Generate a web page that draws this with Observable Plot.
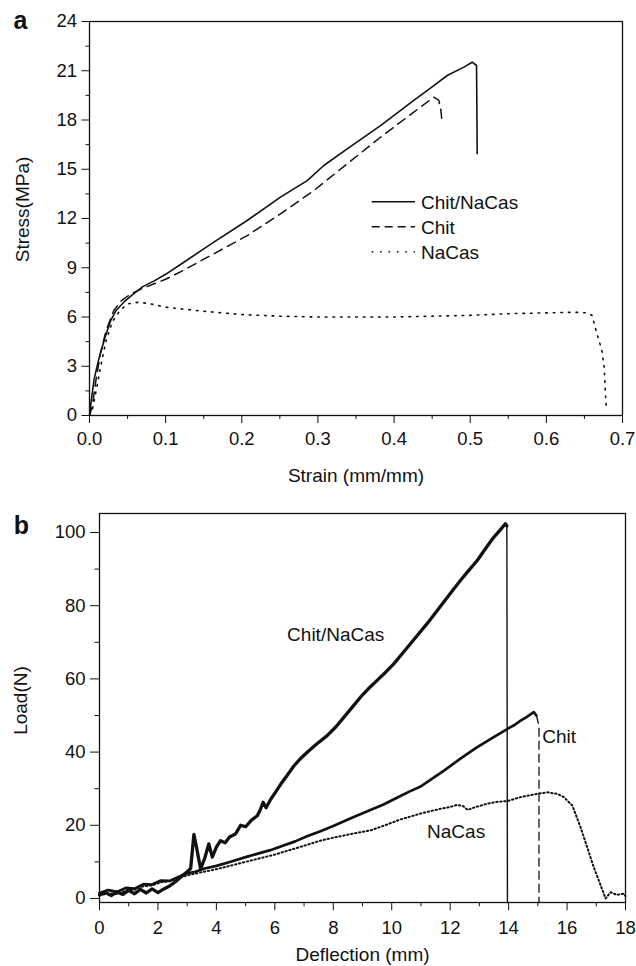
<!DOCTYPE html>
<html><head><meta charset="utf-8">
<script src="https://cdn.jsdelivr.net/npm/d3@7"></script>
<script src="https://cdn.jsdelivr.net/npm/@observablehq/plot@0.6"></script>
<style>
html,body{margin:0;padding:0;background:#fff;}
#chart{width:636px;}
#chart svg{display:block;}
</style></head><body><div id="chart"></div>
<script>
// ---------- Panel a : stress-strain ----------
const seriesNames = ["Chit/NaCas", "Chit", "NaCas"];

const strainChitNaCasA = [0, 0.002, 0.006, 0.012, 0.02, 0.028, 0.035, 0.045, 0.055, 0.07, 0.085, 0.1, 0.1195, 0.1633, 0.2071, 0.2508, 0.2859, 0.3077, 0.3384, 0.3822, 0.4259, 0.4522, 0.4698, 0.4916, 0.5026, 0.5083, 0.5092];
const stressChitNaCasA = [0, 0.8, 2.2, 3.4, 4.7, 5.8, 6.4, 6.9, 7.3, 7.85, 8.2, 8.6, 9.2, 10.56, 11.88, 13.3, 14.31, 15.23, 16.24, 17.66, 19.19, 20.1, 20.71, 21.22, 21.52, 21.32, 15.94];

const strainChitA = [0, 0.0035, 0.008, 0.0144, 0.022, 0.032, 0.042, 0.054, 0.07, 0.1, 0.1195, 0.1633, 0.2071, 0.2508, 0.2946, 0.3384, 0.3822, 0.4259, 0.4522, 0.4588, 0.4615, 0.4632];
const stressChitA = [0, 0.5, 2.0, 3.8, 5.2, 6.4, 7.0, 7.4, 7.75, 8.3, 8.75, 9.85, 10.96, 12.28, 13.7, 15.33, 16.95, 18.48, 19.39, 19.19, 18.6, 17.77];

const strainNaCasA = [0, 0.004, 0.01, 0.016, 0.022, 0.03, 0.04, 0.05, 0.065, 0.08, 0.1, 0.15, 0.2, 0.25, 0.3, 0.35, 0.4, 0.45, 0.5, 0.55, 0.6, 0.636, 0.655, 0.66, 0.6665, 0.673, 0.676, 0.678, 0.679];
const stressNaCasA = [0, 0.4, 1.8, 3.3, 4.6, 5.7, 6.4, 6.8, 6.9, 6.8, 6.6, 6.35, 6.15, 6.05, 6.0, 6.0, 6.0, 6.05, 6.1, 6.2, 6.25, 6.29, 6.25, 6.09, 4.97, 3.96, 2.9, 1.0, 0.3];

const xTicksA = [0, 0.1, 0.2, 0.3, 0.4, 0.5, 0.6, 0.7];
const xMinorA = [0.05, 0.15, 0.25, 0.35, 0.45, 0.55, 0.65];
const yTicksA = [0, 3, 6, 9, 12, 15, 18, 21, 24];
const yMinorA = [1.5, 4.5, 7.5, 10.5, 13.5, 16.5, 19.5, 22.5];

// ---------- Panel b : load-deflection ----------
const deflChitNaCasB = [0, 0.2, 0.4, 0.6, 0.8, 1.0, 1.2, 1.4, 1.6, 1.8, 2.0, 2.2, 2.4, 2.6, 2.8, 3.0, 3.12, 3.23, 3.32, 3.46, 3.6, 3.74, 3.86, 4.0, 4.14, 4.3, 4.45, 4.65, 4.83, 5.0, 5.2, 5.4, 5.51, 5.6, 5.7, 5.85, 6.02, 6.2, 6.4, 6.65, 6.9, 7.1, 7.4, 7.79, 8.1, 8.36, 8.65, 8.93, 9.2, 9.5, 9.8, 10.07, 10.35, 10.64, 10.93, 11.21, 11.5, 11.78, 12.07, 12.35, 12.63, 12.92, 13.2, 13.49, 13.7, 13.89, 13.94, 13.96];
const loadChitNaCasB = [1.0, 1.6, 0.8, 1.8, 1.1, 2.2, 1.3, 2.5, 1.5, 2.6, 1.6, 2.6, 3.4, 4.6, 6.0, 7.3, 8.2, 17.5, 14.0, 8.1, 11.0, 14.9, 11.3, 14.0, 15.8, 15.2, 16.8, 17.6, 20.0, 19.6, 21.4, 22.6, 24.4, 26.3, 24.8, 27.0, 29.0, 31.2, 33.4, 36.2, 38.4, 39.9, 42.0, 44.5, 47.0, 49.5, 52.3, 55.0, 57.3, 59.6, 61.9, 64.1, 66.8, 69.6, 72.4, 75.1, 78.1, 81.0, 84.0, 86.9, 89.6, 92.3, 95.5, 98.7, 100.6, 102.4, 101.8, -1.1];

const deflChitB = [0, 0.3, 0.6, 0.9, 1.2, 1.5, 1.8, 2.1, 2.4, 2.7, 3.0, 3.28, 3.6, 4.0, 4.43, 5.0, 5.57, 5.85, 6.2, 6.7, 7.1, 7.56, 8.0, 8.6, 9.27, 9.7, 10.3, 10.6, 10.99, 11.21, 11.8, 12.35, 12.9, 13.49, 13.95, 14.2, 14.41, 14.6, 14.86, 14.95, 15.0, 15.04, 15.04];
const loadChitB = [1.5, 2.3, 1.8, 2.9, 2.7, 3.9, 3.8, 4.9, 4.8, 5.9, 6.9, 7.3, 8.2, 8.9, 9.9, 11.3, 12.6, 13.2, 14.2, 15.6, 17.0, 18.4, 19.8, 21.9, 24.2, 25.6, 28.0, 29.2, 30.6, 31.8, 35.0, 38.2, 41.2, 44.1, 46.3, 47.4, 48.6, 49.5, 50.9, 50.0, 48.5, 47.0, -1.1];

const deflNaCasB = [0, 0.3, 0.6, 0.9, 1.2, 1.5, 1.8, 2.1, 2.4, 2.7, 3.0, 3.4, 4.0, 4.5, 5.0, 5.5, 6.0, 6.5, 7.0, 7.56, 8.0, 8.6, 9.27, 9.7, 10.3, 10.99, 11.4, 11.67, 12.0, 12.24, 12.45, 12.6, 12.8, 13.27, 13.6, 13.95, 14.41, 14.98, 15.32, 15.66, 15.89, 16.18, 16.46, 16.69, 16.91, 17.15, 17.32, 17.49, 17.7, 17.94, 18.0];
const loadNaCasB = [0.8, 1.4, 1.2, 2.2, 2.4, 3.3, 3.6, 4.4, 4.8, 5.5, 6.3, 7.0, 8.0, 9.0, 10.0, 11.0, 12.0, 13.2, 14.4, 15.8, 16.6, 17.6, 18.6, 19.8, 21.6, 23.2, 24.0, 24.5, 25.0, 25.6, 25.2, 24.2, 24.8, 25.9, 26.4, 26.6, 27.7, 28.6, 29.0, 28.6, 27.7, 25.4, 19.5, 14.0, 8.6, 3.6, 0, 1.7, 1.0, 1.3, 0.6];

const labelTextB = ["Chit/NaCas", "Chit", "NaCas"];
const labelXB = [6.42, 15.15, 11.21];
const labelYB = [72.0, 44.2, 18.2];

const xTicksB = [0, 2, 4, 6, 8, 10, 12, 14, 16, 18];
const xMinorB = [1, 3, 5, 7, 9, 11, 13, 15, 17];
const yTicksB = [0, 20, 40, 60, 80, 100];
const yMinorB = [10, 30, 50, 70, 90];

// ---------- helpers ----------
const FONT = "'Liberation Sans', Arial, Helvetica, sans-serif";
const INK = "#111";
const zip = (xs, ys) => xs.map((x, i) => ({x, y: ys[i]}));

const chitNaCasA = zip(strainChitNaCasA, stressChitNaCasA);
const chitA = zip(strainChitA, stressChitA);
const naCasA = zip(strainNaCasA, stressNaCasA);
const chitNaCasB = zip(deflChitNaCasB, loadChitNaCasB);
const chitB = zip(deflChitB, loadChitB);
const naCasB = zip(deflNaCasB, loadNaCasB);
const labelsB = labelTextB.map((t, i) => ({text: t, x: labelXB[i], y: labelYB[i]}));

// ---------- Plot a ----------
const plotA = Plot.plot({
  width: 636, height: 490,
  marginLeft: 89, marginRight: 14, marginTop: 21, marginBottom: 75,
  style: {fontFamily: FONT, fontSize: "18.5px", background: "#fff", color: INK, overflow: "visible"},
  x: {domain: [0, 0.7]},
  y: {domain: [0, 24]},
  marks: [
    Plot.axisX(xMinorA, {tickSize: 4, tickFormat: () => "", label: null}),
    Plot.axisX(xTicksA, {tickSize: 8, tickPadding: 8.5, tickFormat: d => d.toFixed(1), label: null}),
    Plot.axisY(yMinorA, {tickSize: 3.5, tickFormat: () => "", label: null}),
    Plot.axisY(yTicksA, {tickSize: 7.5, tickPadding: 5, tickFormat: d => String(d), label: null}),
    Plot.line(naCasA, {x: "x", y: "y", stroke: INK, strokeWidth: 1.6, strokeDasharray: "1.6,6"}),
    Plot.line(chitA, {x: "x", y: "y", stroke: INK, strokeWidth: 1.5, strokeDasharray: "9,6"}),
    Plot.line(chitNaCasA, {x: "x", y: "y", stroke: INK, strokeWidth: 1.6}),
    Plot.frame({stroke: INK, strokeWidth: 1.3}),
    Plot.text(["Stress(MPa)"], {frameAnchor: "left", text: d => d, rotate: -90, textAnchor: "middle", lineAnchor: "middle", dx: -67, dy: -9, fontSize: 19, fill: INK}),
    Plot.text(["Strain (mm/mm)"], {frameAnchor: "bottom", text: d => d, textAnchor: "middle", lineAnchor: "bottom", dy: 66, fontSize: 19, fill: INK}),
    Plot.text(["a"], {frameAnchor: "top-left", text: d => d, textAnchor: "start", lineAnchor: "bottom", dx: -76, dy: 7, fontSize: 25, fontWeight: "bold", fill: INK})
  ]
});

// legend for panel a
{
  const g = d3.select(plotA).append("g")
    .attr("font-family", FONT).attr("font-size", 19).attr("fill", INK).attr("text-anchor", "start");
  const dashes = [null, "8,5", "1.6,6.8"];
  seriesNames.forEach((name, i) => {
    const yy = 201.7 + i * 25;
    g.append("line").attr("x1", 371.7).attr("x2", 415).attr("y1", yy).attr("y2", yy)
      .attr("stroke", INK).attr("stroke-width", 1.5).attr("stroke-dasharray", dashes[i]);
    g.append("text").attr("x", 421).attr("y", yy + 7).attr("text-anchor", "start").text(name);
  });
}

// ---------- Plot b ----------
const plotB = Plot.plot({
  width: 636, height: 476,
  marginLeft: 99, marginRight: 11, marginTop: 23, marginBottom: 64,
  style: {fontFamily: FONT, fontSize: "18.5px", background: "#fff", color: INK, overflow: "visible"},
  x: {domain: [0, 18]},
  y: {domain: [-1.1, 105.2]},
  marks: [
    Plot.axisX(xMinorB, {tickSize: 4.3, tickFormat: () => "", label: null}),
    Plot.axisX(xTicksB, {tickSize: 8.3, tickPadding: 10, tickFormat: d => String(d), label: null}),
    Plot.axisY(yMinorB, {tickSize: 4.5, tickFormat: () => "", label: null}),
    Plot.axisY(yTicksB, {tickSize: 9, tickPadding: 5, tickFormat: d => String(d), label: null}),
    Plot.line(naCasB, {x: "x", y: "y", stroke: INK, strokeWidth: 2, strokeDasharray: "1.4,2.6"}),
    Plot.line(chitB, {x: "x", y: "y", filter: d => d.x <= 14.95, stroke: INK, strokeWidth: 2.7}),
    Plot.line(chitB, {x: "x", y: "y", filter: d => d.x >= 14.95, stroke: INK, strokeWidth: 1.3, strokeDasharray: "8,5"}),
    Plot.line(chitNaCasB, {x: "x", y: "y", filter: d => d.x <= 13.94, stroke: INK, strokeWidth: 3.3}),
    Plot.line(chitNaCasB, {x: "x", y: "y", filter: d => d.x >= 13.94, stroke: INK, strokeWidth: 1.4}),
    Plot.text(labelsB, {x: "x", y: "y", text: "text", textAnchor: "start", fontSize: 19, fill: INK}),
    Plot.frame({stroke: INK, strokeWidth: 1.3}),
    Plot.text(["Load(N)"], {frameAnchor: "left", text: d => d, rotate: -90, textAnchor: "middle", lineAnchor: "middle", dx: -78.5, dy: -7.5, fontSize: 19, fill: INK}),
    Plot.text(["Deflection (mm)"], {frameAnchor: "bottom", text: d => d, textAnchor: "middle", lineAnchor: "bottom", dy: 58, fontSize: 19, fill: INK}),
    Plot.text(["b"], {frameAnchor: "top-left", text: d => d, textAnchor: "start", lineAnchor: "bottom", dx: -85.7, dy: 20, fontSize: 25, fontWeight: "bold", fill: INK})
  ]
});

const root = document.getElementById("chart");
root.appendChild(plotA);
root.appendChild(plotB);
</script></body></html>
